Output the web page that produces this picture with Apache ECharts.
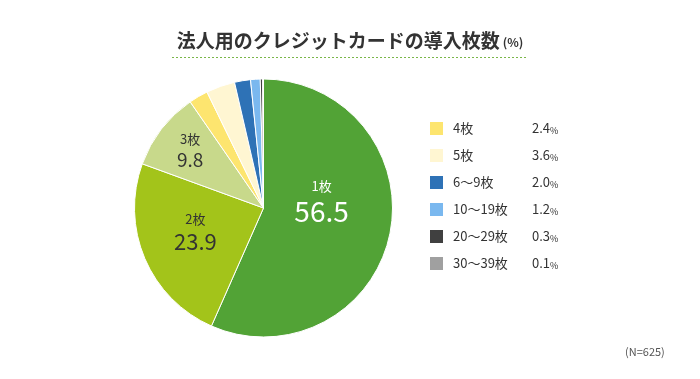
<!DOCTYPE html>
<html><head><meta charset="utf-8">
<script src="https://cdn.jsdelivr.net/npm/echarts@6/dist/echarts.min.js"></script>
<style>html,body{margin:0;padding:0;background:#fff}#c{width:700px;height:379px}</style>
</head><body><div id="c"></div>
<script>
const categories = ['1枚','2枚','3枚','4枚','5枚','6～9枚','10～19枚','20～29枚','30～39枚'];
const values = [56.5, 23.9, 9.8, 2.4, 3.6, 2.0, 1.2, 0.3, 0.1];
const colors = ['#52a336','#a3c41a','#c8d98b','#fde56f','#fff6d2','#2e72b6','#7ab8ef','#404040','#a0a0a0'];
const font = '"Noto Sans CJK JP", "Noto Sans", sans-serif';
const chart = echarts.init(document.getElementById('c'));
const labelCfg = [
  {offset:[-8,-20], color:'#fff', s:28},
  {offset:[-6,-2], color:'#333', s:22},
  {offset:[-20,-16], color:'#333', s:19}
];
const data = categories.map((n,i)=>{
  const d = {name:n, value:values[i], itemStyle:{color:colors[i]}};
  if (i<3) {
    const c = labelCfg[i];
    d.label = {show:true, position:'inside', offset:c.offset,
      formatter: '{a|{b}}\n{b|{c}}',
      rich:{a:{fontSize:13, color:c.color, fontFamily:font, lineHeight:18, align:'center'},
            b:{fontSize:c.s, color:c.color, fontFamily:font, lineHeight:c.s+4, align:'center'}}};
  } else d.label = {show:false};
  return d;
});
chart.setOption({
  animation:false,
  title:{text:'法人用のクレジットカードの導入枚数{p|(%)}', left:'center', top:26,
    textStyle:{fontSize:19, fontWeight:'bold', color:'#333', fontFamily:font,
      rich:{p:{fontSize:12, color:'#333', fontFamily:font, padding:[4,0,0,3]}}}},
  graphic:[
    {type:'line', shape:{x1:172, y1:57.5, x2:527, y2:57.5}, style:{stroke:'#7ab648', lineWidth:1, lineDash:[2,2]}},
    {type:'text', left:625, top:346, style:{text:'(N=625)', fontSize:11, fill:'#555', fontFamily:font}}
  ],
  legend:{orient:'vertical', left:428, top:120, padding:0, itemWidth:15, itemHeight:15, itemGap:10,
    icon:'rect', selectedMode:false,
    data:categories.slice(3),
    formatter: name => '{n|'+name+'}{v|'+values[categories.indexOf(name)].toFixed(1)+'}{p|%}',
    textStyle:{fontFamily:font, color:'#333', lineHeight:14,
      rich:{n:{width:79, fontSize:13, lineHeight:14, color:'#333', fontFamily:font, padding:[0,0,0,4]},
            v:{fontSize:13, lineHeight:14, color:'#333', fontFamily:font},
            p:{fontSize:9, lineHeight:14, color:'#333', fontFamily:font, verticalAlign:'bottom'}}}},
  series:[{type:'pie', center:[263.5,208], radius:[0,129], startAngle:90, clockwise:true,
    itemStyle:{borderColor:'#fff', borderWidth:1},
    labelLine:{show:false}, emphasis:{disabled:true},
    data:data}]
});
</script></body></html>
